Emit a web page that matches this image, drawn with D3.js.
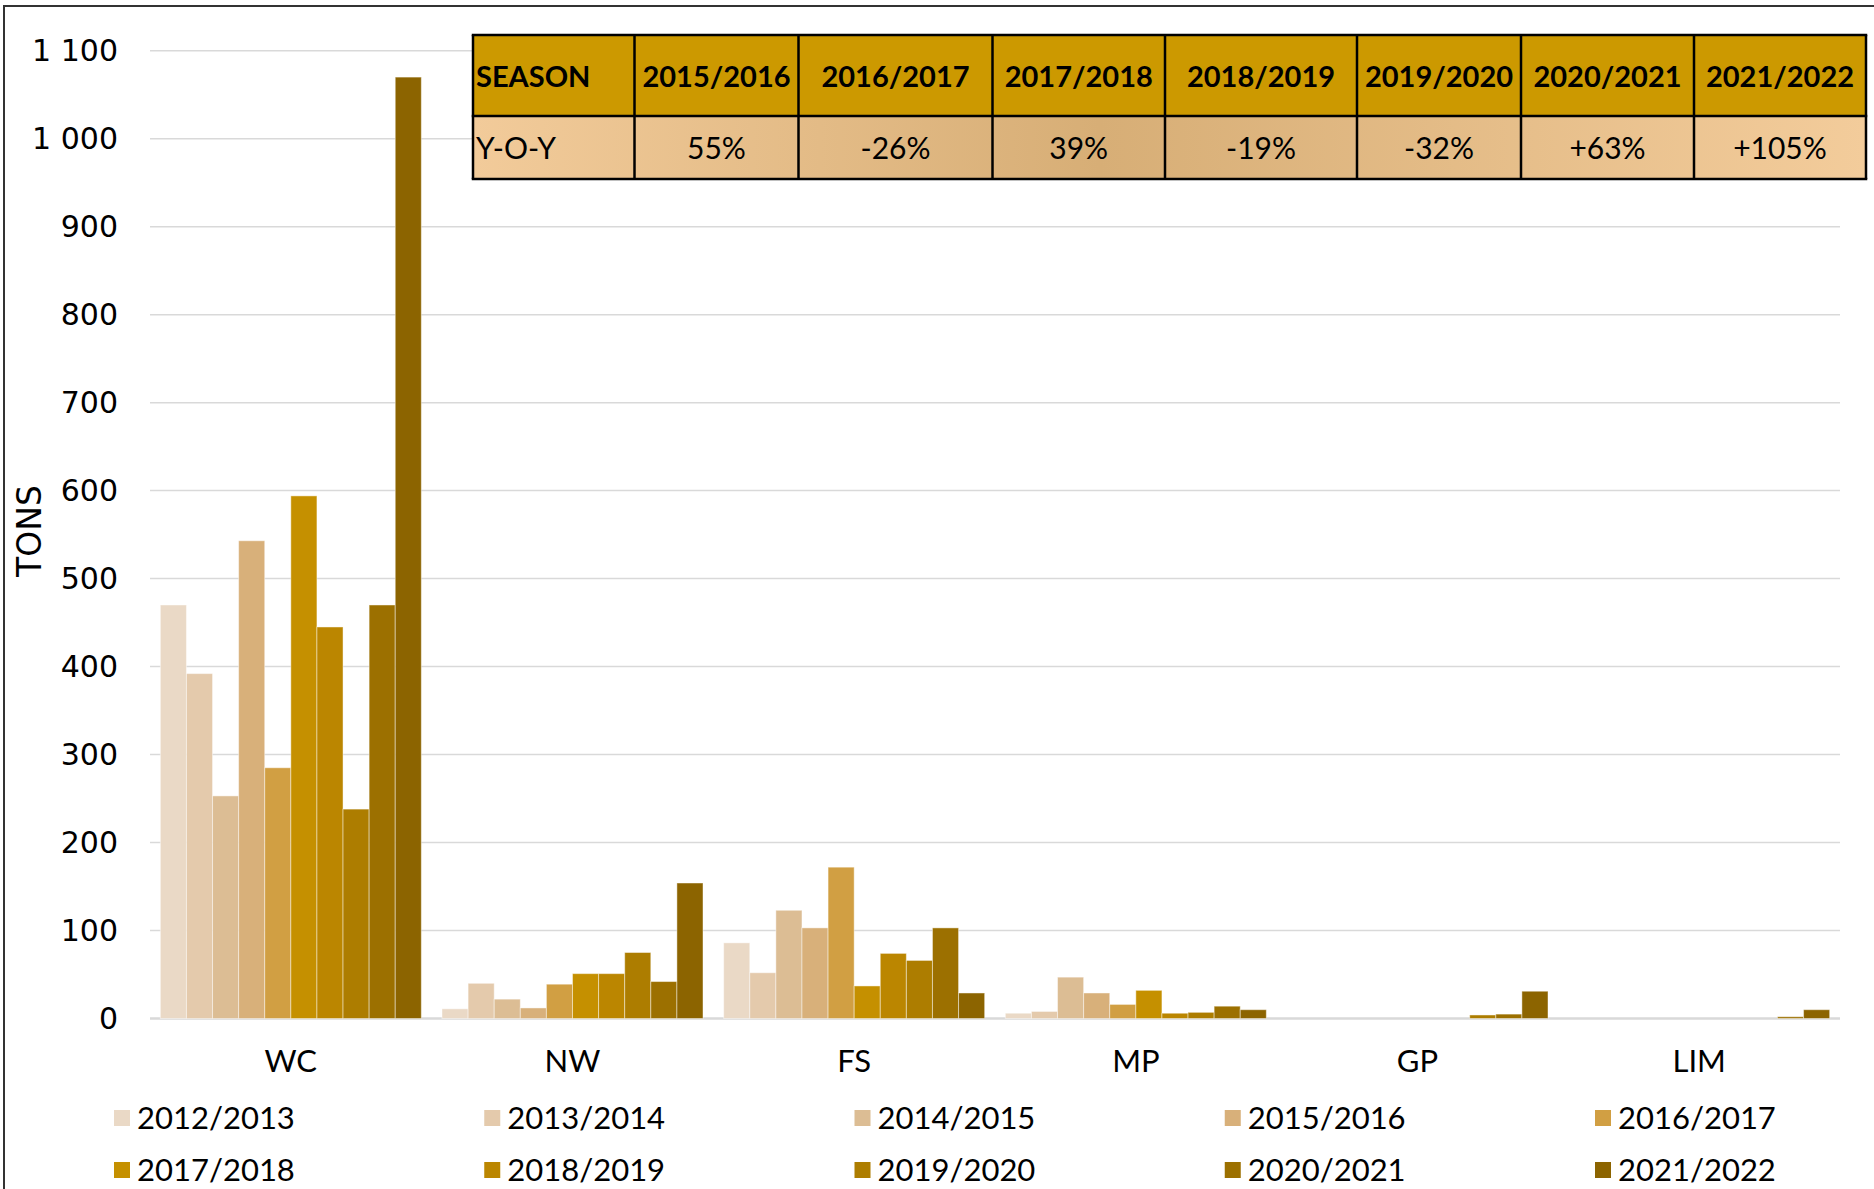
<!doctype html>
<html lang="en">
<head>
  <meta charset="utf-8">
  <title>Tons per region and season</title>
  <style>
    body { margin: 0; background: #fff; }
    svg { display: block; }
    .tick text { font-family: "DejaVu Sans", sans-serif; }
  </style>
</head>
<body>
  <script src="https://cdn.jsdelivr.net/npm/d3@7/dist/d3.min.js"></script>
  <script>
    // data
    var categories = ['WC', 'NW', 'FS', 'MP', 'GP', 'LIM']
    var seasons = ['2012/2013', '2013/2014', '2014/2015', '2015/2016', '2016/2017',
                   '2017/2018', '2018/2019', '2019/2020', '2020/2021', '2021/2022']
    var s2012 = [470, 11, 86, 6, 0, 0]
    var s2013 = [392, 40, 52, 8, 0, 0]
    var s2014 = [253, 22, 123, 47, 0, 0]
    var s2015 = [543, 12, 103, 29, 0, 0]
    var s2016 = [285, 39, 172, 16, 0, 0]
    var s2017 = [594, 51, 37, 32, 0, 0]
    var s2018 = [445, 51, 74, 6, 0, 0]
    var s2019 = [238, 75, 66, 7, 4, 0]
    var s2020 = [470, 42, 103, 14, 5, 2]
    var s2021 = [1070, 154, 29, 10, 31, 10]
    var series = [s2012, s2013, s2014, s2015, s2016, s2017, s2018, s2019, s2020, s2021]
    var yTicks = [0, 100, 200, 300, 400, 500, 600, 700, 800, 900, 1000, 1100]

    var tableSeasons = ['2015/2016', '2016/2017', '2017/2018', '2018/2019', '2019/2020', '2020/2021', '2021/2022']
    var yoy = ['55%', '-26%', '39%', '-19%', '-32%', '+63%', '+105%']

    var colors = ['#EAD9C6', '#E4CAAC', '#DCBD94', '#D8B07A', '#D19F43',
                  '#C59000', '#BB8600', '#AD7D00', '#9C7000', '#8C6400']

    var W = 1874, H = 1189
    var plot = { left: 150, right: 1840, top: 50.7, bottom: 1018.5 }

    var svg = d3.select('body').append('svg')
      .attr('width', W)
      .attr('height', H)

    // outer frame (only top and left are inside the picture)
    svg.append('rect')
      .attr('x', 4).attr('y', 6)
      .attr('width', W + 20).attr('height', H + 20)
      .style('fill', 'none')
      .style('stroke', '#333')
      .style('stroke-width', 2)

    var x0 = d3.scaleBand()
      .domain(categories)
      .range([plot.left, plot.right])
      .paddingInner(0.0734)
      .paddingOuter(0.0367)

    var x1 = d3.scaleBand()
      .domain(d3.range(seasons.length))
      .range([0, x0.bandwidth()])

    var y = d3.scaleLinear()
      .domain([0, 1100])
      .range([plot.bottom, plot.top])

    // gridlines
    svg.append('g')
      .selectAll('line')
      .data(yTicks)
      .enter().append('line')
        .attr('x1', plot.left)
        .attr('x2', plot.right)
        .attr('y1', function(d) { return y(d) })
        .attr('y2', function(d) { return y(d) })
        .style('stroke', '#D9D9D9')
        .style('stroke-width', function(d) { return d === 0 ? 2.5 : 1.5 })

    var yAxis = d3.axisLeft(y)
      .tickValues(yTicks)
      .tickSize(0)
      .tickPadding(0)
      .tickFormat(function(d) { return d3.format(',')(d).replace(',', ' ') })

    svg.append('g')
      .attr('class', 'y axis')
      .attr('transform', 'translate(118, 0)')
      .call(yAxis)
      .call(function(g) { g.select('.domain').remove() })
      .selectAll('text')
        .style('font-size', '30px')
        .style('fill', '#000')

    svg.append('text')
      .attr('transform', 'translate(41, 531) rotate(-90)')
      .attr('text-anchor', 'middle')
      .style('font-family', '"DejaVu Sans", sans-serif')
      .style('font-size', '33px')
      .text('TONS')

    // bars, one group per season
    var group = svg.selectAll('.season')
      .data(series)
      .enter().append('g')
        .attr('class', 'season')
        .style('fill', function(d, i) { return colors[i] })

    group.each(function(vals, si) {
      d3.select(this).selectAll('rect')
        .data(vals.map(function(v, ci) { return { c: categories[ci], v: v } })
          .filter(function(d) { return d.v > 0 }))
        .enter().append('rect')
          .attr('x', function(d) { return x0(d.c) + x1(si) })
          .attr('width', x1.bandwidth())
          .attr('y', function(d) { return y(d.v) })
          .attr('height', function(d) { return y(0) - y(d.v) })
          .style('stroke', 'rgba(255,255,255,0.45)')
          .style('stroke-width', 1)
    })

    // category labels
    svg.append('g')
      .selectAll('text')
      .data(categories)
      .enter().append('text')
        .attr('x', function(d) { return x0(d) + x0.bandwidth() / 2 })
        .attr('y', 1072)
        .attr('text-anchor', 'middle')
        .style('font-family', 'Lato, sans-serif')
        .style('font-size', '31px')
        .text(function(d) { return d })

    // legend
    var legend = svg.append('g')
      .selectAll('g')
      .data(seasons)
      .enter().append('g')
        .attr('transform', function(d, i) {
          return 'translate(' + (114 + (i % 5) * 370.25) + ', ' + (1118 + Math.floor(i / 5) * 52) + ')'
        })

    legend.append('rect')
      .attr('x', 0).attr('y', -8)
      .attr('width', 16).attr('height', 16)
      .style('fill', function(d, i) { return colors[i] })

    legend.append('text')
      .attr('x', 23)
      .attr('y', 11)
      .style('font-family', 'Lato, sans-serif')
      .style('font-size', '31px')
      .text(function(d) { return d })

    // Y-O-Y table
    var colEdges = [473, 634.5, 798.5, 992.5, 1165, 1357, 1521, 1694, 1866]
    var rowTop = 35, rowMid = 116, rowBot = 179

    var defs = svg.append('defs')
    var grad = defs.append('linearGradient')
      .attr('id', 'yoyFill')
      .attr('gradientUnits', 'userSpaceOnUse')
      .attr('x1', colEdges[0]).attr('x2', colEdges[colEdges.length - 1])
      .attr('y1', 0).attr('y2', 0)
    grad.append('stop').attr('offset', '0%').attr('stop-color', '#F2CB9A')
    grad.append('stop').attr('offset', '45%').attr('stop-color', '#D7AE76')
    grad.append('stop').attr('offset', '100%').attr('stop-color', '#F3CC9B')

    var table = svg.append('g')

    table.append('rect')
      .attr('x', colEdges[0]).attr('y', rowTop)
      .attr('width', colEdges[8] - colEdges[0]).attr('height', rowMid - rowTop)
      .style('fill', '#CC9900')

    table.append('rect')
      .attr('x', colEdges[0]).attr('y', rowMid)
      .attr('width', colEdges[8] - colEdges[0]).attr('height', rowBot - rowMid)
      .style('fill', 'url(#yoyFill)')

    table.selectAll('.vline')
      .data(colEdges)
      .enter().append('line')
        .attr('x1', function(d) { return d })
        .attr('x2', function(d) { return d })
        .attr('y1', rowTop).attr('y2', rowBot)
        .style('stroke', '#000')
        .style('stroke-width', 2.5)

    table.selectAll('.hline')
      .data([rowTop, rowMid, rowBot])
      .enter().append('line')
        .attr('x1', colEdges[0] - 1.25)
        .attr('x2', colEdges[8] + 1.25)
        .attr('y1', function(d) { return d })
        .attr('y2', function(d) { return d })
        .style('stroke', '#000')
        .style('stroke-width', 2.5)

    var headers = ['SEASON'].concat(tableSeasons)
    var rowVals = ['Y-O-Y'].concat(yoy)

    function cellX(d, i) { return i === 0 ? colEdges[0] + 3 : (colEdges[i] + colEdges[i + 1]) / 2 }
    function cellAnchor(d, i) { return i === 0 ? 'start' : 'middle' }

    table.selectAll('.head')
      .data(headers)
      .enter().append('text')
        .attr('x', cellX)
        .attr('y', 87)
        .attr('text-anchor', cellAnchor)
        .style('font-family', 'Lato, sans-serif')
        .style('font-weight', 'bold')
        .style('font-size', '29px')
        .text(function(d) { return d })

    table.selectAll('.val')
      .data(rowVals)
      .enter().append('text')
        .attr('x', cellX)
        .attr('y', 159)
        .attr('text-anchor', cellAnchor)
        .style('font-family', 'Lato, sans-serif')
        .style('font-size', '30px')
        .text(function(d) { return d })
  </script>
</body>
</html>
